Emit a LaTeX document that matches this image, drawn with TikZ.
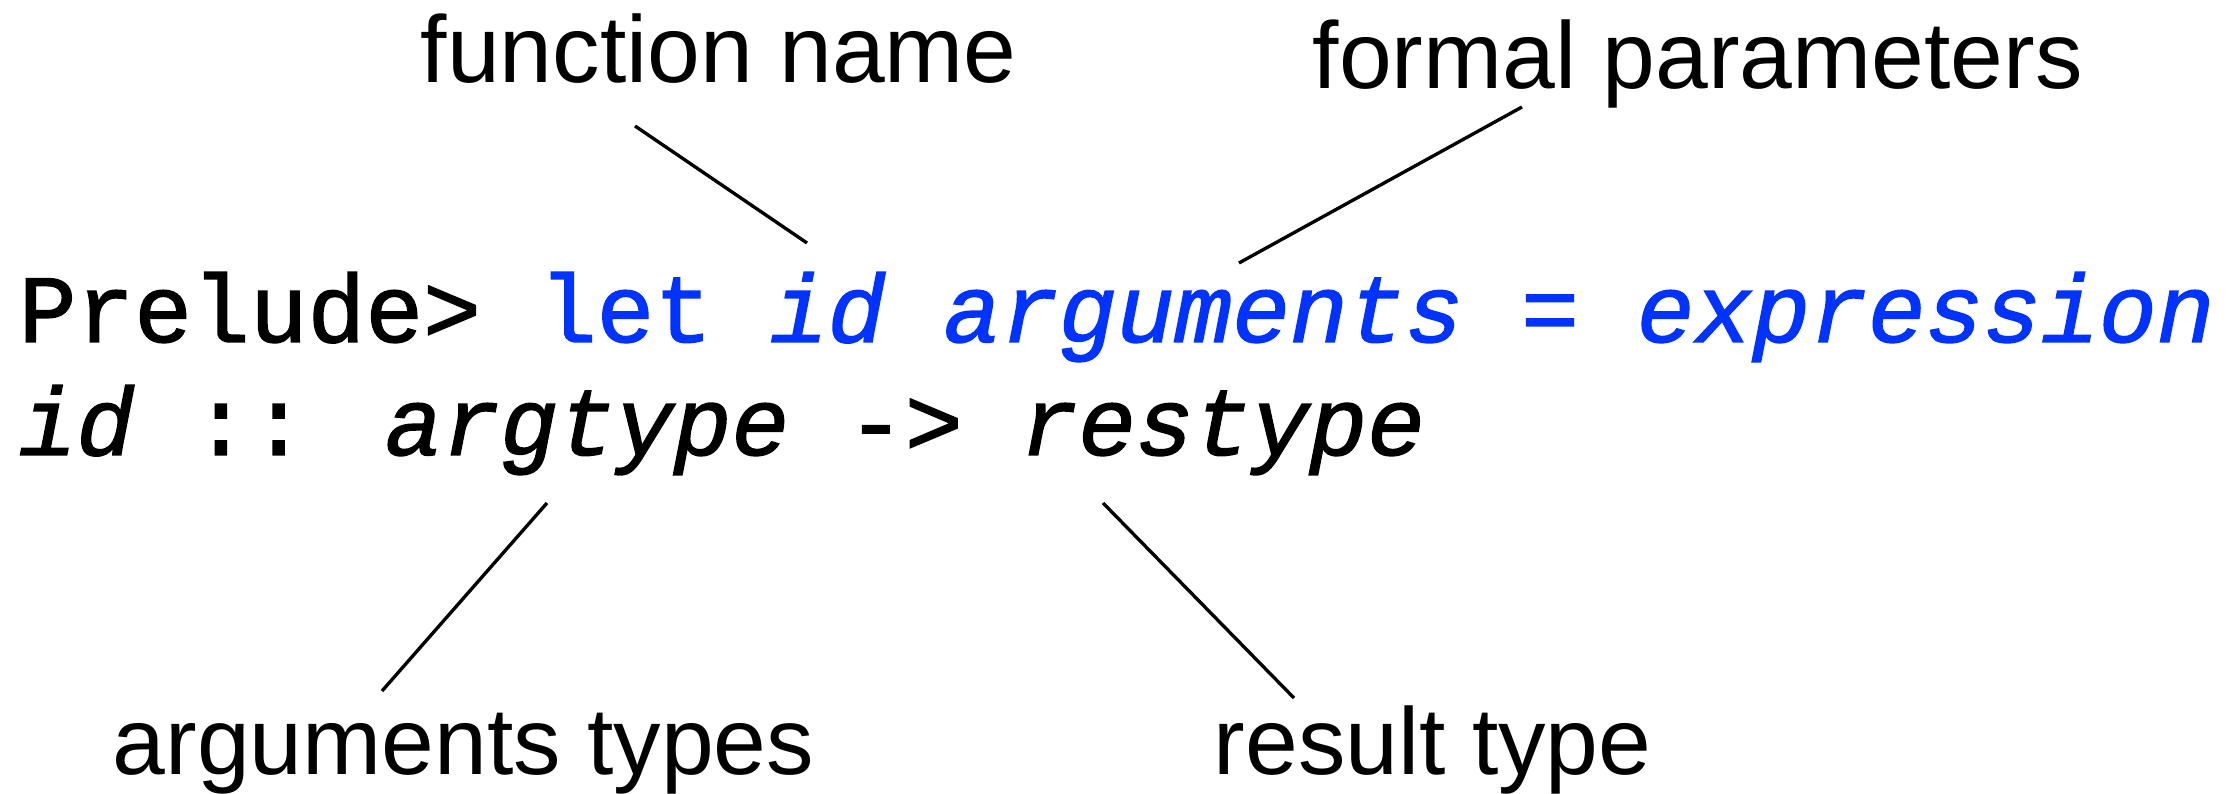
\documentclass[tikz,border=0pt]{standalone}
\usepackage{fontspec}
\usepackage{tikz}
\newfontfamily\labelfont{Liberation Sans}
\newfontfamily\codefont[FakeBold=1.5]{Liberation Mono}
\definecolor{codeblue}{RGB}{0,51,255}

\begin{document}
\begin{tikzpicture}[
	lbl/.style={anchor=base west, inner sep=0pt, font=\labelfont\fontsize{27}{32}\selectfont},
	code/.style={anchor=base west, inner sep=0pt, font=\codefont\fontsize{27.4}{32}\selectfont},
	pointer/.style={black, line width=0.95pt}]
	\useasboundingbox (0,0) rectangle (22.30,7.94);

	\node[code] (defline) at (0.18,4.52) {Prelude> {\color{codeblue}let \textit{id arguments = expression}}};
	\node[code] (typeline) at (0.18,3.39) {\textit{id} :: \textit{argtype} -> \textit{restype}};

	\node[lbl] (fname) at (4.20,7.11) {function name};
	\node[lbl] (fparams) at (13.12,7.05) {formal parameters};
	\node[lbl] (argtypes) at (1.12,0.19) {arguments types};
	\node[lbl] (restype) at (12.13,0.19) {result type};

	\coordinate (fnameA) at (6.35,6.68);
	\coordinate (fnameB) at (8.07,5.51);
	\coordinate (fparamsA) at (15.22,6.87);
	\coordinate (fparamsB) at (12.39,5.31);
	\coordinate (argtypesA) at (5.47,2.91);
	\coordinate (argtypesB) at (3.82,1.03);
	\coordinate (restypeA) at (11.03,2.91);
	\coordinate (restypeB) at (12.94,0.96);

	\draw[pointer] (fnameA) -- (fnameB);
	\draw[pointer] (fparamsA) -- (fparamsB);
	\draw[pointer] (argtypesA) -- (argtypesB);
	\draw[pointer] (restypeA) -- (restypeB);

\end{tikzpicture}
\end{document}
